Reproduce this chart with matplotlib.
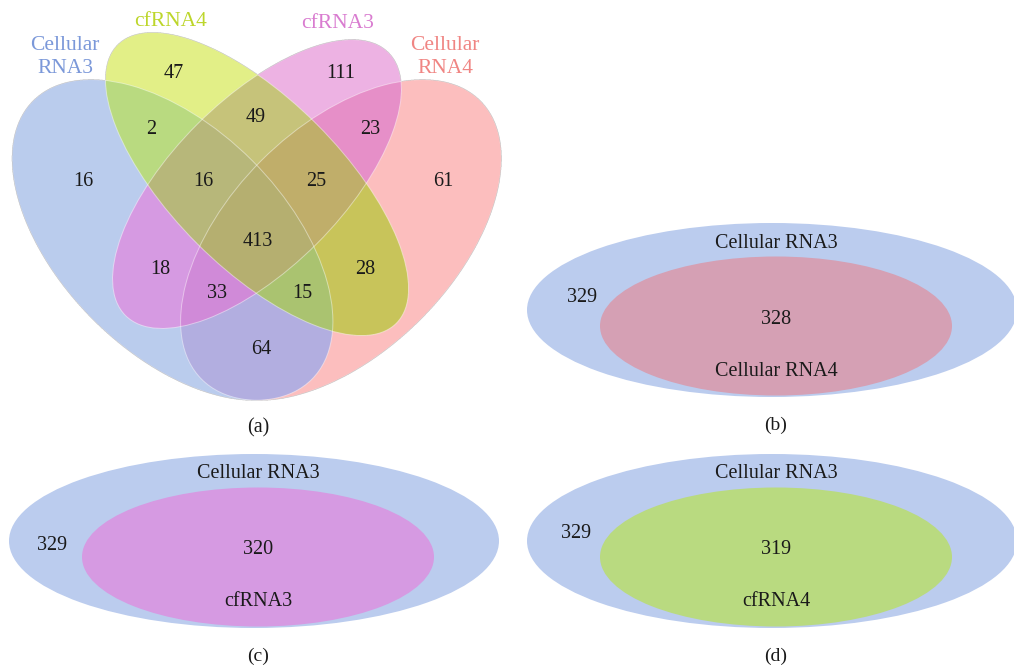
import numpy as np
import matplotlib.pyplot as plt
from matplotlib.patches import Ellipse
from matplotlib.colors import to_rgba

plt.rcParams['font.family'] = 'Liberation Serif'

# (a) four-set overlap: B = Cellular RNA3, G = cfRNA4, P = cfRNA3, R = Cellular RNA4
set_keys = ['B', 'G', 'P', 'R']
set_names = ['Cellular\nRNA3', 'cfRNA4', 'cfRNA3', 'Cellular\nRNA4']
set_colors = ['#7b98d9', '#bdd62b', '#d97cd0', '#f08583']

region_keys = ['B', 'G', 'P', 'R', 'BG', 'GP', 'PR', 'BP', 'GR', 'BR',
               'BGP', 'GPR', 'BPR', 'BGR', 'BGPR']
region_counts = [16, 47, 111, 61, 2, 49, 23, 18, 28, 64, 16, 25, 33, 15, 413]
region_fill = ['#bbccee', '#e2ef88', '#edb3e3', '#fdbfbf', '#b9db80', '#c6c47a',
               '#e68fc9', '#d79be2', '#c9c55a', '#b3aee0', '#b8b77a', '#c0ae6a',
               '#d18ad8', '#aac470', '#b5b070']

# (b)-(d) two-set overlaps, Cellular RNA3 against each of the others
pair_outer = ['Cellular RNA3', 'Cellular RNA3', 'Cellular RNA3']
pair_inner = ['Cellular RNA4', 'cfRNA3', 'cfRNA4']
outer_only = [329, 329, 329]
shared = [328, 320, 319]
pair_fill = ['#d5a0b4', '#d69ae2', '#b9da80']
pair_tags = ['(b)', '(c)', '(d)']

# layout in pixel units (y down)
ell = {  # centre x, centre y, semi-major, semi-minor, angle
    'B': (172.5, 240, 197, 112.5, 45),
    'R': (341, 240, 197, 112.5, -45),
    'G': (257, 184, 197, 84.5, 45),
    'P': (257, 184, 186, 84.5, -45),
}
region_pos = [(83, 181), (174, 74), (341, 74), (443, 181), (151, 130), (256, 118),
              (370, 130), (160, 270), (365, 270), (261, 350), (203, 181), (316, 181),
              (217, 293), (302, 293), (258, 242)]
set_label_pos = [(65, 57), (171, 22), (338, 24), (445, 57)]

fig = plt.figure(figsize=(10.14, 6.67), dpi=100)
ax = fig.add_axes([0, 0, 1, 1])
ax.set_xlim(0, 1014)
ax.set_ylim(667, 0)
ax.axis('off')

# rasterise the four ellipses into regions so every overlap gets its own colour
ss = 4
W, H = 520, 420
xs = (np.arange(W * ss) + 0.5) / ss
ys = (np.arange(H * ss) + 0.5) / ss
X, Y = np.meshgrid(xs, ys)
inside = {}
for k in set_keys:
    cx, cy, a, b, ang = ell[k]
    t = np.deg2rad(ang)
    dx, dy = X - cx, Y - cy
    u = dx * np.cos(t) + dy * np.sin(t)
    v = -dx * np.sin(t) + dy * np.cos(t)
    inside[k] = (u / a) ** 2 + (v / b) ** 2 <= 1

img = np.zeros((H * ss, W * ss, 4))
for key, col in zip(region_keys, region_fill):
    mask = np.ones_like(X, dtype=bool)
    for k in set_keys:
        mask &= inside[k] if k in key else ~inside[k]
    img[mask] = to_rgba(col)
ax.imshow(img, extent=(0, W, H, 0), interpolation='antialiased', zorder=1)

for k in set_keys:
    cx, cy, a, b, ang = ell[k]
    ax.add_patch(Ellipse((cx, cy), 2 * a, 2 * b, angle=ang, fill=False,
                         edgecolor='white', lw=0.7, alpha=0.45, zorder=2))

txt = '#1a1a1a'
for (x, y), n in zip(region_pos, region_counts):
    ax.text(x, y, str(n), fontsize=14.5, ha='center', va='center', color=txt, zorder=3)
for (x, y), name, col in zip(set_label_pos, set_names, set_colors):
    ax.text(x, y, name, fontsize=15.5, ha='center', va='center', color=col,
            linespacing=1.3, zorder=3)
ax.text(258, 428, '(a)', fontsize=14.5, ha='center', va='center', color=txt)

# pair panels
pair_centre = [(774, 310), (256, 541), (774, 541)]
outer_num_pos = [(582, 297), (52, 545), (576, 533)]
for i in range(3):
    cx, cy = pair_centre[i]
    ax.add_patch(Ellipse((cx - 2, cy), 490, 174, facecolor='#bbccee', edgecolor='none', zorder=1))
    ax.add_patch(Ellipse((cx + 2, cy + 16), 352, 139, facecolor=pair_fill[i],
                         edgecolor='none', zorder=2))
    ax.text(cx + 2, cy - 67, pair_outer[i], fontsize=14.5, ha='center', va='center', color=txt, zorder=3)
    ax.text(*outer_num_pos[i], str(outer_only[i]), fontsize=14.5, ha='center', va='center',
            color=txt, zorder=3)
    ax.text(cx + 2, cy + 9, str(shared[i]), fontsize=14.5, ha='center', va='center', color=txt, zorder=3)
    ax.text(cx + 2, cy + 61, pair_inner[i], fontsize=14.5, ha='center', va='center', color=txt, zorder=3)
    ax.text(cx + 2, cy + 115, pair_tags[i], fontsize=14, ha='center', va='center', color=txt)

fig.savefig('out.png', dpi=100)
